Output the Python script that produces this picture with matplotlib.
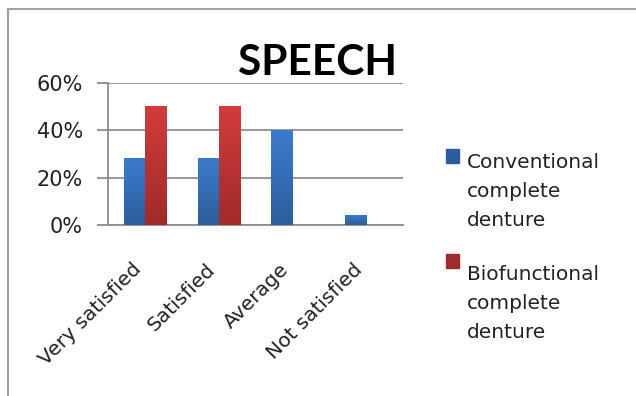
import textwrap
import numpy as np
import matplotlib
matplotlib.use('agg')
import matplotlib.pyplot as plt
from matplotlib.colors import LinearSegmentedColormap
from matplotlib.lines import Line2D
from matplotlib.patches import Rectangle
from matplotlib.ticker import PercentFormatter

categories = ['Very satisfied', 'Satisfied', 'Average', 'Not satisfied']
series_names = ['Conventional complete denture', 'Biofunctional complete denture']
conventional = [0.28, 0.28, 0.40, 0.04]
biofunctional = [0.50, 0.50, 0.0, 0.0]
yticks = [0, 0.2, 0.4, 0.6]

# (top, bottom) shades for the gradient fill
shades = [('#3c7bcb', '#2d5d9c'), ('#d03c3c', '#a12a2a')]
grid_col = '#8e8e8e'

W, H = 636, 396
fig = plt.figure(figsize=(W / 100, H / 100), dpi=100)
ax = fig.add_axes([108 / W, 1 - 225 / H, (403 - 108) / W, (225 - 83) / H])

x = np.arange(len(categories))
bw = 0.285
containers = [
    ax.bar(x - bw / 2, conventional, bw, color=shades[0][0], zorder=2),
    ax.bar(x + bw / 2, biofunctional, bw, color=shades[1][0], zorder=2),
]

# vertical gradient on every bar
grad = np.linspace(0, 1, 64).reshape(-1, 1)
for bars, (top, bottom) in zip(containers, shades):
    cmap = LinearSegmentedColormap.from_list('', [bottom, top])
    for bar in bars:
        h = bar.get_height()
        if h <= 0:
            continue
        x0 = bar.get_x()
        ax.imshow(grad, extent=[x0, x0 + bar.get_width(), 0, h], origin='lower',
                  cmap=cmap, aspect='auto', zorder=3)

ax.set_xlim(-0.5, len(categories) - 0.5)
ax.set_ylim(0, 0.6)
ax.set_yticks(yticks)
ax.yaxis.set_major_formatter(PercentFormatter(1.0, decimals=0))
ax.yaxis.grid(True, color=grid_col, lw=1.3)
ax.set_axisbelow(True)
for s in ['top', 'right']:
    ax.spines[s].set_visible(False)
for s in ['left', 'bottom']:
    ax.spines[s].set_color(grid_col)
    ax.spines[s].set_linewidth(1.3)
ax.tick_params(axis='y', length=8, width=1.3, color=grid_col, pad=10,
               labelsize=15, labelcolor='#222222')
ax.tick_params(axis='x', length=0, pad=25)
ax.set_xticks(x)
ax.set_xticklabels(categories, rotation=45, ha='right', va='top',
                   fontsize=14.5, color='#222222')

fig.text(397 / W, 1 - 75 / H, 'SPEECH', ha='right', va='baseline',
         fontsize=30.5, fontweight='bold', family=['Lato', 'DejaVu Sans'])

# legend drawn beside the plot; text anchored on its last line
pitch = 30.5
for i, name in enumerate(series_names):
    top = [149, 254][i]
    first_base = [165, 277][i]
    lines = textwrap.fill(name, 13)
    last_base = first_base + pitch * lines.count('\n')
    fig.add_artist(Rectangle((446 / W, 1 - (top + 14) / H), 13 / W, 14 / H,
                             transform=fig.transFigure, color=shades[i][1]))
    fig.text(467 / W, 1 - last_base / H, lines, ha='left', va='baseline',
             fontsize=14.5, linespacing=1.65, color='#222222')

# chart frame
fig.add_artist(Line2D([8 / W, 1], [1 - 9 / H] * 2, transform=fig.transFigure,
                      color='#a0a0a0', lw=1.5))
fig.add_artist(Line2D([8 / W] * 2, [0, 1 - 9 / H], transform=fig.transFigure,
                      color='#a0a0a0', lw=1.5))

fig.savefig('out.png', dpi=100)
